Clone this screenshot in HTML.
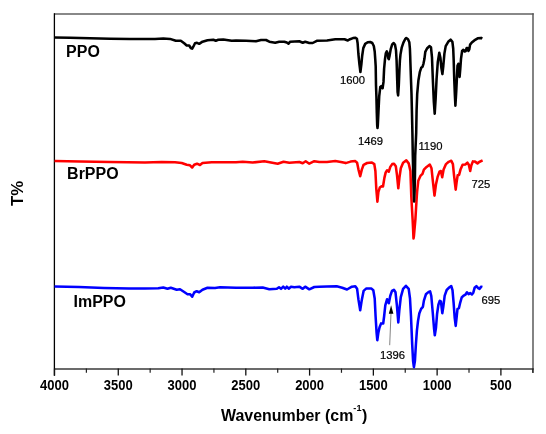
<!DOCTYPE html>
<html><head><meta charset="utf-8"><title>FTIR spectra</title>
<style>
html,body{margin:0;padding:0;background:#fff;}
body{width:546px;height:434px;overflow:hidden;}
svg{display:block;}
text{font-family:"Liberation Sans",Arial,Helvetica,sans-serif;fill:#000;}
.tk{font-weight:bold;}
.lb{font-weight:bold;}
.pk{stroke:#000;stroke-width:0.2px;}
.ax{font-size:16.8px;font-weight:bold;}
</style></head><body>
<svg width="546" height="434" viewBox="0 0 546 434">
<rect width="546" height="434" fill="#fff"/>
<!-- frame -->
<line x1="54" y1="14" x2="533.7" y2="14" stroke="#606060" stroke-width="1.45"/>
<line x1="533" y1="13.3" x2="533" y2="373" stroke="#555" stroke-width="1.45"/>
<line x1="54" y1="369" x2="533.8" y2="369" stroke="#3a3a3a" stroke-width="1.7"/>
<line x1="54.4" y1="13.2" x2="54.4" y2="375.7" stroke="#000" stroke-width="1.3"/>
<line x1="54.50" y1="368.5" x2="54.50" y2="375.6" stroke="#111" stroke-width="1.3"/>
<text transform="translate(54.5,389.9) scale(0.93,1)" font-size="14.0px" class="tk" text-anchor="middle">4000</text>
<line x1="86.39" y1="368.5" x2="86.39" y2="372.8" stroke="#222" stroke-width="1.2"/>
<line x1="118.27" y1="368.5" x2="118.27" y2="375.6" stroke="#111" stroke-width="1.3"/>
<text transform="translate(118.27,389.9) scale(0.93,1)" font-size="14.0px" class="tk" text-anchor="middle">3500</text>
<line x1="150.16" y1="368.5" x2="150.16" y2="372.8" stroke="#222" stroke-width="1.2"/>
<line x1="182.04" y1="368.5" x2="182.04" y2="375.6" stroke="#111" stroke-width="1.3"/>
<text transform="translate(182.04,389.9) scale(0.93,1)" font-size="14.0px" class="tk" text-anchor="middle">3000</text>
<line x1="213.93" y1="368.5" x2="213.93" y2="372.8" stroke="#222" stroke-width="1.2"/>
<line x1="245.81" y1="368.5" x2="245.81" y2="375.6" stroke="#111" stroke-width="1.3"/>
<text transform="translate(245.81,389.9) scale(0.93,1)" font-size="14.0px" class="tk" text-anchor="middle">2500</text>
<line x1="277.70" y1="368.5" x2="277.70" y2="372.8" stroke="#222" stroke-width="1.2"/>
<line x1="309.59" y1="368.5" x2="309.59" y2="375.6" stroke="#111" stroke-width="1.3"/>
<text transform="translate(309.59,389.9) scale(0.93,1)" font-size="14.0px" class="tk" text-anchor="middle">2000</text>
<line x1="341.47" y1="368.5" x2="341.47" y2="372.8" stroke="#222" stroke-width="1.2"/>
<line x1="373.36" y1="368.5" x2="373.36" y2="375.6" stroke="#111" stroke-width="1.3"/>
<text transform="translate(373.36,389.9) scale(0.93,1)" font-size="14.0px" class="tk" text-anchor="middle">1500</text>
<line x1="405.24" y1="368.5" x2="405.24" y2="372.8" stroke="#222" stroke-width="1.2"/>
<line x1="437.13" y1="368.5" x2="437.13" y2="375.6" stroke="#111" stroke-width="1.3"/>
<text transform="translate(437.13,389.9) scale(0.93,1)" font-size="14.0px" class="tk" text-anchor="middle">1000</text>
<line x1="469.01" y1="368.5" x2="469.01" y2="372.8" stroke="#222" stroke-width="1.2"/>
<line x1="500.90" y1="368.5" x2="500.90" y2="375.6" stroke="#111" stroke-width="1.3"/>
<text transform="translate(500.9,389.9) scale(0.93,1)" font-size="14.0px" class="tk" text-anchor="middle">500</text>
<line x1="532.79" y1="368.5" x2="532.79" y2="372.8" stroke="#222" stroke-width="1.2"/>

<!-- curves -->
<polyline fill="none" stroke="#ff0000" stroke-width="2.55" stroke-linejoin="round" stroke-linecap="butt" points="54.5,161.0 80.0,161.6 110.0,162.1 145.0,162.4 161.7,162.0 175.0,162.3 181.7,163.0 186.7,164.7 190.0,165.3 192.2,167.5 194.2,164.7 197.0,163.7 200.0,165.0 202.5,163.0 211.7,162.2 236.0,162.3 242.7,161.7 252.7,162.5 264.3,161.2 271.0,162.5 277.7,163.7 283.5,161.7 289.3,162.7 299.3,162.0 302.7,163.3 305.7,161.3 309.3,163.7 314.3,161.2 319.3,162.0 327.0,161.9 335.3,161.1 342.2,162.2 345.7,163.1 350.5,161.6 355.3,161.1 357.1,162.7 358.5,169.6 360.2,176.3 361.8,169.6 363.6,164.8 367.1,163.0 371.9,162.5 374.3,164.1 375.4,171.0 376.3,189.0 377.4,201.7 378.4,191.8 379.8,187.6 381.6,186.2 383.0,186.5 384.4,177.9 385.7,172.4 387.1,170.3 388.8,171.7 390.3,166.9 392.2,164.1 394.0,163.7 395.8,166.2 397.0,175.2 398.3,188.3 399.4,177.9 400.8,168.3 403.1,162.7 406.3,160.4 408.7,163.4 410.4,171.0 410.9,184.8 411.3,196.3 411.9,207.3 412.6,219.3 413.1,229.3 413.5,238.5 413.9,236.3 414.5,229.3 415.4,219.3 416.1,207.3 416.8,196.3 417.1,191.8 418.3,180.7 420.4,175.9 422.5,173.8 423.9,169.6 426.6,166.9 429.8,164.5 431.5,168.3 432.8,180.7 434.5,195.6 435.9,184.8 437.7,176.6 439.5,171.7 440.9,171.0 442.2,177.3 443.6,169.6 446.0,164.1 448.7,161.8 451.3,160.7 452.9,164.1 454.1,175.8 455.7,189.7 456.8,180.7 457.7,175.2 459.1,174.9 460.5,169.6 462.6,164.8 465.3,164.5 467.4,162.7 468.8,164.8 470.2,171.0 471.3,165.5 472.9,161.4 475.0,161.6 477.5,163.4 479.2,162.0 482.6,160.4"/>
<polyline fill="none" stroke="#0000ff" stroke-width="2.55" stroke-linejoin="round" stroke-linecap="butt" points="54.5,286.6 79.0,287.0 104.0,287.9 129.0,288.5 145.0,288.5 158.3,288.3 163.3,287.5 167.5,288.7 170.8,287.7 176.7,289.7 180.0,289.2 184.2,292.0 187.5,294.2 190.0,294.2 192.2,296.7 194.2,292.5 196.7,291.2 199.2,292.2 202.5,289.7 207.5,287.8 215.0,288.0 220.0,287.2 236.0,287.8 252.7,287.7 262.7,287.5 269.3,289.3 276.8,288.7 279.0,287.2 281.0,288.8 283.2,286.7 285.2,288.7 286.8,286.7 289.0,288.7 291.0,286.7 294.3,287.3 299.3,286.7 302.7,288.8 305.2,286.7 309.3,289.3 314.3,287.0 319.3,286.7 327.0,286.4 336.7,286.3 342.2,287.7 347.0,289.5 351.9,286.7 355.3,286.3 357.1,288.8 358.5,299.9 360.2,310.2 361.8,299.9 363.6,290.9 366.4,288.4 371.2,288.4 373.3,290.2 374.7,298.5 375.6,316.5 376.6,333.0 377.3,340.2 378.3,333.0 379.5,327.5 381.1,323.4 383.2,323.5 384.1,316.5 385.3,305.4 387.1,299.2 388.8,303.3 390.3,295.7 392.0,290.9 393.9,289.8 395.5,292.3 396.9,305.4 398.3,322.5 399.4,309.5 400.8,297.1 403.1,288.8 405.9,285.8 408.7,288.8 410.0,298.5 411.0,316.5 412.2,344.5 413.1,361.1 413.9,367.2 414.9,361.1 415.9,344.5 416.9,330.7 418.0,321.1 419.3,313.5 421.1,308.9 422.9,306.8 423.9,300.6 425.9,294.3 428.7,291.9 430.1,291.4 431.3,296.0 432.7,312.0 434.0,328.0 434.8,335.3 436.0,327.5 437.1,313.7 438.4,304.7 439.8,300.8 440.9,301.3 442.3,313.2 443.3,306.8 444.7,295.7 446.7,290.0 449.5,287.2 451.2,286.0 452.5,290.2 453.6,302.6 454.7,317.8 455.7,325.9 456.7,316.5 457.5,308.9 458.9,308.2 460.3,302.3 461.7,297.5 463.3,295.9 465.4,294.7 467.0,292.3 468.6,294.1 470.2,293.1 471.9,294.5 473.3,292.7 474.6,287.8 476.4,286.2 478.2,288.1 479.6,288.9 481.0,286.7 482.4,287.1"/>
<polyline fill="none" stroke="#000" stroke-width="2.55" stroke-linejoin="round" stroke-linecap="butt" points="54.5,37.4 70.0,37.7 90.0,38.3 110.0,38.8 130.0,38.9 145.0,39.1 155.0,38.9 163.3,38.6 170.0,38.9 175.8,40.8 180.8,40.7 184.2,43.3 186.7,45.5 189.2,45.5 190.8,48.0 192.2,48.7 193.3,46.7 195.0,43.3 197.0,42.8 199.2,43.8 202.5,41.7 207.5,40.3 213.3,39.7 215.8,40.7 218.3,39.8 223.3,39.5 228.3,40.2 231.7,40.8 236.0,40.6 246.0,40.8 256.0,41.2 261.0,40.0 266.0,40.0 269.3,41.7 275.2,42.7 279.3,41.7 284.3,41.7 286.8,42.5 288.5,43.7 290.2,41.7 299.3,41.3 302.7,42.7 305.2,41.7 309.3,43.0 312.7,43.0 316.8,40.8 327.0,40.4 335.3,39.3 344.5,39.2 347.8,40.5 350.0,39.2 353.0,38.1 355.5,37.8 356.9,38.8 357.6,43.0 358.4,54.0 359.4,64.1 360.4,72.0 361.4,64.1 362.2,55.7 363.3,48.1 365.2,43.9 367.7,42.2 370.2,42.0 372.3,43.0 373.8,46.0 374.7,51.5 375.3,59.9 375.7,66.4 376.0,85.3 376.4,96.4 376.8,113.0 377.2,125.4 377.5,128.0 377.8,125.4 378.4,113.0 379.2,96.4 380.3,86.9 381.2,86.1 382.6,88.2 383.5,81.9 384.1,68.9 385.0,59.2 385.8,53.3 386.8,51.3 387.7,53.6 388.3,58.4 388.8,59.1 389.6,55.6 390.8,48.8 392.2,44.4 393.7,43.0 395.0,44.7 396.0,50.2 396.6,60.6 397.1,77.2 397.6,92.1 398.1,95.4 398.8,85.5 399.4,70.6 399.9,60.6 400.5,54.4 401.7,47.7 403.4,42.6 405.1,39.2 406.3,38.0 408.0,39.2 409.3,42.2 409.9,48.5 410.2,56.1 410.4,62.6 410.9,77.2 411.5,93.8 411.9,110.3 412.4,132.6 412.8,155.6 413.4,180.6 414.1,201.4 414.6,190.6 414.9,178.6 415.2,155.6 416.2,132.6 416.6,110.3 417.2,93.8 418.4,80.5 419.8,72.2 421.2,67.8 422.5,66.8 423.5,63.6 424.4,59.1 425.3,51.9 427.0,48.5 429.4,46.1 431.0,47.3 432.0,57.7 432.8,78.5 433.8,101.3 434.7,113.7 435.6,99.2 436.6,78.5 437.8,61.9 439.3,52.8 440.4,57.7 441.4,68.1 442.4,74.1 443.3,66.0 444.4,53.6 445.7,46.1 448.2,41.8 450.6,39.7 452.4,41.8 453.2,48.5 453.7,60.6 454.3,80.6 454.9,95.6 455.4,105.7 456.2,92.1 456.9,78.3 457.5,65.8 458.4,63.7 459.0,68.6 459.6,76.9 460.3,68.6 461.0,58.9 462.1,51.0 463.4,49.8 464.6,51.5 465.7,51.0 466.6,48.1 467.6,48.1 468.4,51.0 469.3,49.3 470.1,44.6 471.8,42.5 474.3,40.4 477.7,38.3 481.0,37.9 482.3,38.7"/>
<!-- arrow -->
<line x1="389.7" y1="345.2" x2="391.0" y2="313" stroke="#5a5a5a" stroke-width="0.75"/>
<polygon points="391.1,305.2 388.8,313.8 393.4,313.8" fill="#000"/>
<!-- labels -->
<text transform="translate(66.1,57.4) scale(0.94,1)" font-size="17px" class="lb" text-anchor="start">PPO</text>
<text transform="translate(67.1,179.0) scale(0.94,1)" font-size="17px" class="lb" text-anchor="start">BrPPO</text>
<text transform="translate(73.5,306.5) scale(0.94,1)" font-size="17px" class="lb" text-anchor="start">ImPPO</text>
<text transform="translate(340.0,84.4) scale(0.955,1)" font-size="11.8px" class="pk" text-anchor="start">1600</text>
<text transform="translate(357.9,145.2) scale(0.955,1)" font-size="11.8px" class="pk" text-anchor="start">1469</text>
<text transform="translate(418.4,149.8) scale(0.955,1)" font-size="11.8px" class="pk" text-anchor="start">1190</text>
<text transform="translate(471.4,187.7) scale(0.955,1)" font-size="11.8px" class="pk" text-anchor="start">725</text>
<text transform="translate(481.6,303.8) scale(0.955,1)" font-size="11.8px" class="pk" text-anchor="start">695</text>
<text transform="translate(380.0,358.9) scale(0.955,1)" font-size="11.8px" class="pk" text-anchor="start">1396</text>
<text transform="translate(221,421) scale(0.95,1)" class="ax">Wavenumber (cm<tspan font-size="9.6px" dy="-9.6">-1</tspan><tspan dy="9.6" dx="0.6">)</tspan></text>
<text transform="translate(23.2,206) rotate(-90) scale(1,0.95)" class="ax">T%</text>
</svg>
</body></html>
